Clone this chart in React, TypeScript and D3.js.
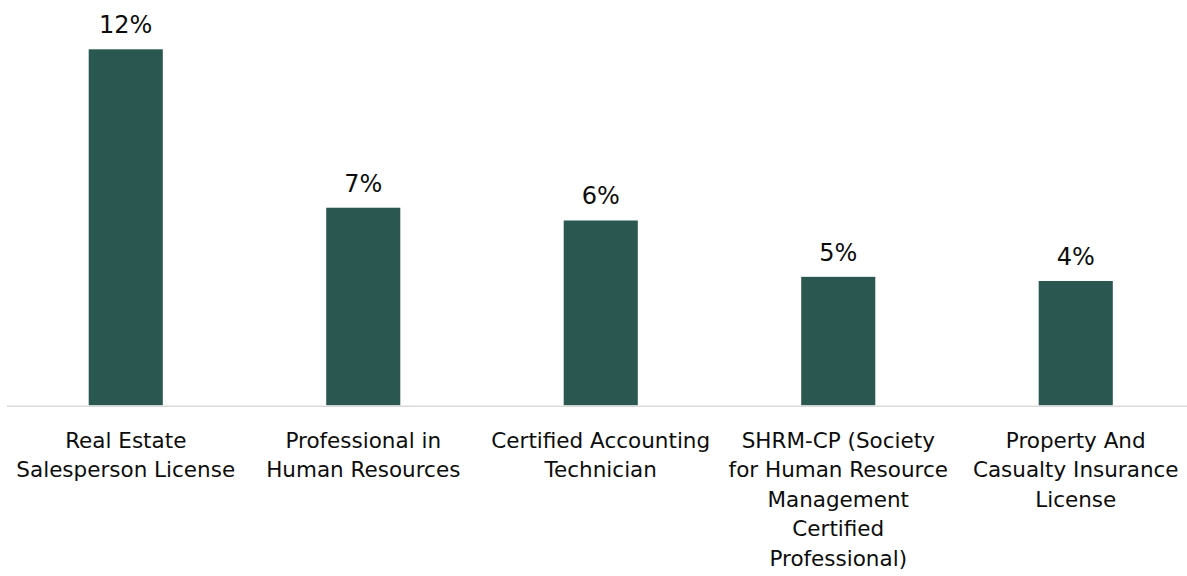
import { useEffect, useRef } from 'react'
import * as d3 from 'd3'

const categories = [
  'Real Estate\nSalesperson License',
  'Professional in\nHuman Resources',
  'Certified Accounting\nTechnician',
  'SHRM-CP (Society\nfor Human Resource\nManagement\nCertified\nProfessional)',
  'Property And\nCasualty Insurance\nLicense',
]
const values = [12.0, 6.66, 6.23, 4.33, 4.19]
const valueLabels = ['12%', '7%', '6%', '5%', '4%']

const WIDTH = 1187
const HEIGHT = 576
const FONT = '"DejaVu Sans", sans-serif'

export default function App() {
  const svgRef = useRef<SVGSVGElement>(null)

  useEffect(() => {
    if (!svgRef.current) return
    const svg = d3.select(svgRef.current)
    svg.selectAll('*').remove()

    const baseline = 405.3
    const x = d3.scaleBand<number>()
      .domain(d3.range(categories.length))
      .range([7, 1194.5])
      .paddingInner(0.688)
      .paddingOuter(0.344)

    const y = d3.scaleLinear()
      .domain([0, 12])
      .range([baseline, 49.3])

    // bars
    svg.append('g')
      .selectAll('rect')
      .data(values)
      .enter().append('rect')
      .attr('x', (_, i) => x(i)!)
      .attr('width', x.bandwidth())
      .attr('y', d => y(d))
      .attr('height', d => baseline - y(d))
      .style('fill', '#2a5750')

    // axis line
    svg.append('line')
      .attr('x1', 7)
      .attr('x2', WIDTH)
      .attr('y1', baseline + 1)
      .attr('y2', baseline + 1)
      .style('stroke', '#d9d9d9')
      .style('stroke-width', 1.5)

    // value labels
    svg.append('g')
      .selectAll('text')
      .data(values)
      .enter().append('text')
      .attr('x', (_, i) => x(i)! + x.bandwidth() / 2)
      .attr('y', d => y(d) - 16)
      .attr('text-anchor', 'middle')
      .style('font-family', FONT)
      .style('font-size', '24px')
      .style('fill', '#0d0d0d')
      .text((_, i) => valueLabels[i])

    // category labels
    const cat = svg.append('g')
      .selectAll('text')
      .data(categories)
      .enter().append('text')
      .attr('text-anchor', 'middle')
      .style('font-family', FONT)
      .style('font-size', '21.5px')
      .style('fill', '#0d0d0d')

    cat.each(function (d, i) {
      const t = d3.select(this)
      d.split('\n').forEach((line, j) => {
        t.append('tspan')
          .attr('x', x(i)! + x.bandwidth() / 2)
          .attr('y', 447.6 + j * 29.5)
          .text(line)
      })
    })
  }, [])

  return (
    <svg
      ref={svgRef}
      width={WIDTH}
      height={HEIGHT}
      style={{ position: 'absolute', left: 0, top: 0, background: '#fff' }}
    />
  )
}
